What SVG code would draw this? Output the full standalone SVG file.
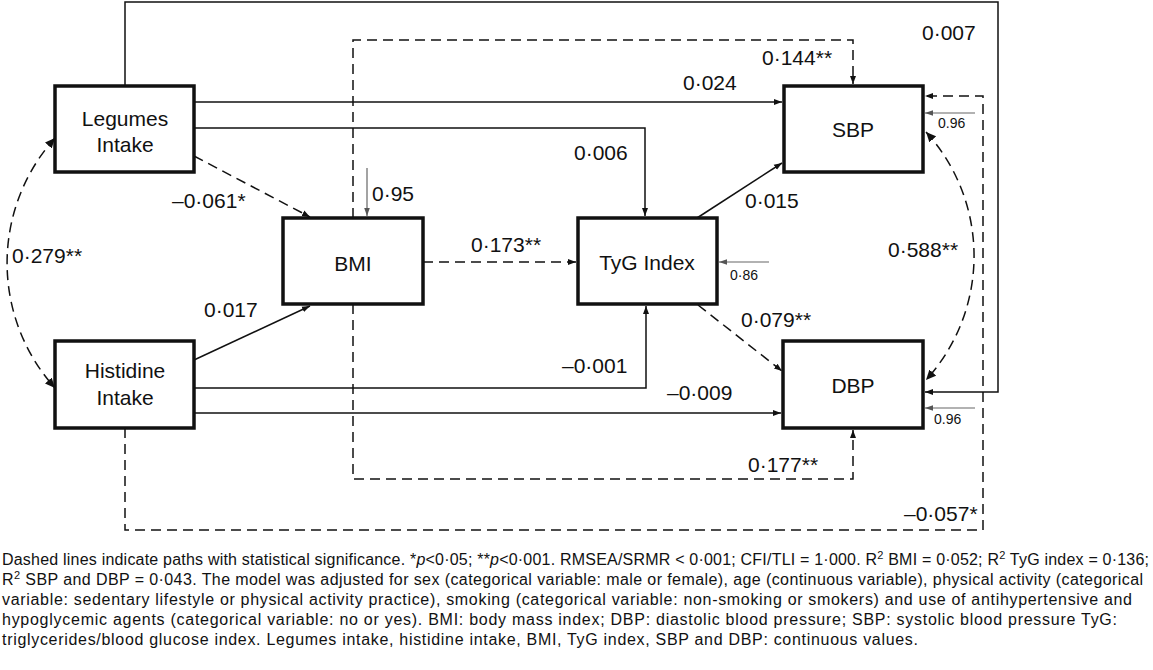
<svg xmlns="http://www.w3.org/2000/svg" width="1153" height="670" viewBox="0 0 1153 670">
<defs>
<marker id="ah" markerUnits="userSpaceOnUse" markerWidth="10" markerHeight="8" refX="8" refY="4" orient="auto"><path d="M0,1 L8,4 L0,7 Z" fill="#111"/></marker>
<marker id="ahg" markerUnits="userSpaceOnUse" markerWidth="10" markerHeight="8" refX="8" refY="4" orient="auto"><path d="M0,1.2 L8,4 L0,6.8 Z" fill="#555"/></marker>
<marker id="ahb" markerUnits="userSpaceOnUse" markerWidth="12" markerHeight="10" refX="10" refY="5" orient="auto-start-reverse"><path d="M0,0.5 L10,5 L0,9.5 Z" fill="#111"/></marker>
</defs>
<style>
.s{fill:none;stroke:#111;stroke-width:1.5}
.d{fill:none;stroke:#111;stroke-width:1.5;stroke-dasharray:10,6}
.g{fill:none;stroke:#666;stroke-width:1.2}
.box{fill:#fff;stroke:#111;stroke-width:3.5}
.lab{font-family:"Liberation Sans",Arial,sans-serif;font-size:21px;fill:#111}
.nl{font-family:"Liberation Sans",Arial,sans-serif;font-size:21px;fill:#111;text-anchor:middle}
.sm{font-family:"Liberation Sans",Arial,sans-serif;font-size:14px;fill:#111}
.cap{font-family:"Liberation Sans",Arial,sans-serif;font-size:16px;fill:#111}
</style>
<g id="connectors">
<path class="s" d="M125,86 V2 H998 V392 H925" marker-end="url(#ah)"/>
<path class="d" d="M353,218 V40 H853 V84" marker-end="url(#ah)"/>
<path class="d" d="M353,304 V479 H853 V430" marker-end="url(#ah)"/>
<path class="s" d="M194,102 H782" marker-end="url(#ah)"/>
<path class="s" d="M194,128 H645 V216" marker-end="url(#ah)"/>
<path class="d" d="M194,156 L310,217" marker-end="url(#ah)"/>
<path class="g" d="M367,168 V216" marker-end="url(#ahg)"/>
<path class="s" d="M194,360 L310,306" marker-end="url(#ah)"/>
<path class="s" d="M194,388 H646 V306" marker-end="url(#ah)"/>
<path class="s" d="M194,413 H781" marker-end="url(#ah)"/>
<path class="d" d="M125,428 V530 H983 V96 H925" marker-end="url(#ah)"/>
<path class="d" d="M423,262 H576" marker-end="url(#ah)"/>
<path class="s" d="M697,218 L782,163" marker-end="url(#ah)"/>
<path class="d" d="M698,305 L782,371" marker-end="url(#ah)"/>
<path class="g" d="M975,113 H925" marker-end="url(#ahg)"/>
<path class="g" d="M975,408 H925" marker-end="url(#ahg)"/>
<path class="g" d="M769,262 H719" marker-end="url(#ahg)"/>
<path class="d" d="M55,138 A187,187 0 0 0 55,388" marker-start="url(#ahb)" marker-end="url(#ahb)"/>
<path class="d" d="M926,132 A184,184 0 0 1 926,380" marker-start="url(#ahb)" marker-end="url(#ahb)"/>
</g>
<g id="edge-labels">
<text class="lab" x="683" y="90">0·024</text>
<text class="lab" x="762" y="65">0·144**</text>
<text class="lab" x="922" y="40">0·007</text>
<text class="lab" x="574" y="160">0·006</text>
<text class="lab" x="372" y="201">0·95</text>
<text class="lab" x="172" y="208">–0·061*</text>
<text class="lab" x="12" y="263">0·279**</text>
<text class="lab" x="471" y="252">0·173**</text>
<text class="lab" x="745" y="208">0·015</text>
<text class="sm" x="730" y="280">0·86</text>
<text class="lab" x="204" y="317">0·017</text>
<text class="lab" x="562" y="373">–0·001</text>
<text class="lab" x="667" y="400">–0·009</text>
<text class="lab" x="741" y="327">0·079**</text>
<text class="lab" x="888" y="257">0·588**</text>
<text class="lab" x="748" y="472">0·177**</text>
<text class="lab" x="904" y="521">–0·057*</text>
<text class="sm" x="938" y="128">0.96</text>
<text class="sm" x="934" y="424">0.96</text>
</g>
<g id="legumes"><rect class="box" x="55" y="86" width="139" height="86"/><text class="nl" x="125" y="126">Legumes</text><text class="nl" x="125" y="152">Intake</text></g>
<g id="histidine"><rect class="box" x="55" y="341" width="139" height="87"/><text class="nl" x="125" y="378">Histidine</text><text class="nl" x="125" y="405">Intake</text></g>
<g id="bmi"><rect class="box" x="283" y="218" width="140" height="86"/><text class="nl" x="353" y="271">BMI</text></g>
<g id="tyg"><rect class="box" x="578" y="218" width="139" height="86"/><text class="nl" x="647" y="270">TyG Index</text></g>
<g id="sbp"><rect class="box" x="784" y="86" width="139" height="86"/><text class="nl" x="853" y="137">SBP</text></g>
<g id="dbp"><rect class="box" x="783" y="341" width="140" height="87"/><text class="nl" x="853" y="393">DBP</text></g>
<g id="caption">
<text class="cap" x="2" y="565" textLength="1147" lengthAdjust="spacing">Dashed lines indicate paths with statistical significance. *<tspan font-style="italic">p</tspan>&lt;0·05; **<tspan font-style="italic">p</tspan>&lt;0·001. RMSEA/SRMR &lt; 0·001; CFI/TLI = 1·000. R<tspan font-size="11" dy="-6">2</tspan><tspan dy="6"> BMI = 0·052; R</tspan><tspan font-size="11" dy="-6">2</tspan><tspan dy="6"> TyG index = 0·136;</tspan></text>
<text class="cap" x="2" y="585" textLength="1141" lengthAdjust="spacing">R<tspan font-size="11" dy="-6">2</tspan><tspan dy="6"> SBP and DBP = 0·043. The model was adjusted for sex (categorical variable: male or female), age (continuous variable), physical activity (categorical</tspan></text>
<text class="cap" x="2" y="605" textLength="1130" lengthAdjust="spacing">variable: sedentary lifestyle or physical activity practice), smoking (categorical variable: non-smoking or smokers) and use of antihypertensive and</text>
<text class="cap" x="2" y="625" textLength="1115" lengthAdjust="spacing">hypoglycemic agents (categorical variable: no or yes). BMI: body mass index; DBP: diastolic blood pressure; SBP: systolic blood pressure TyG:</text>
<text class="cap" x="2" y="645" textLength="916" lengthAdjust="spacing">triglycerides/blood glucose index. Legumes intake, histidine intake, BMI, TyG index, SBP and DBP: continuous values.</text>
</g>
</svg>
